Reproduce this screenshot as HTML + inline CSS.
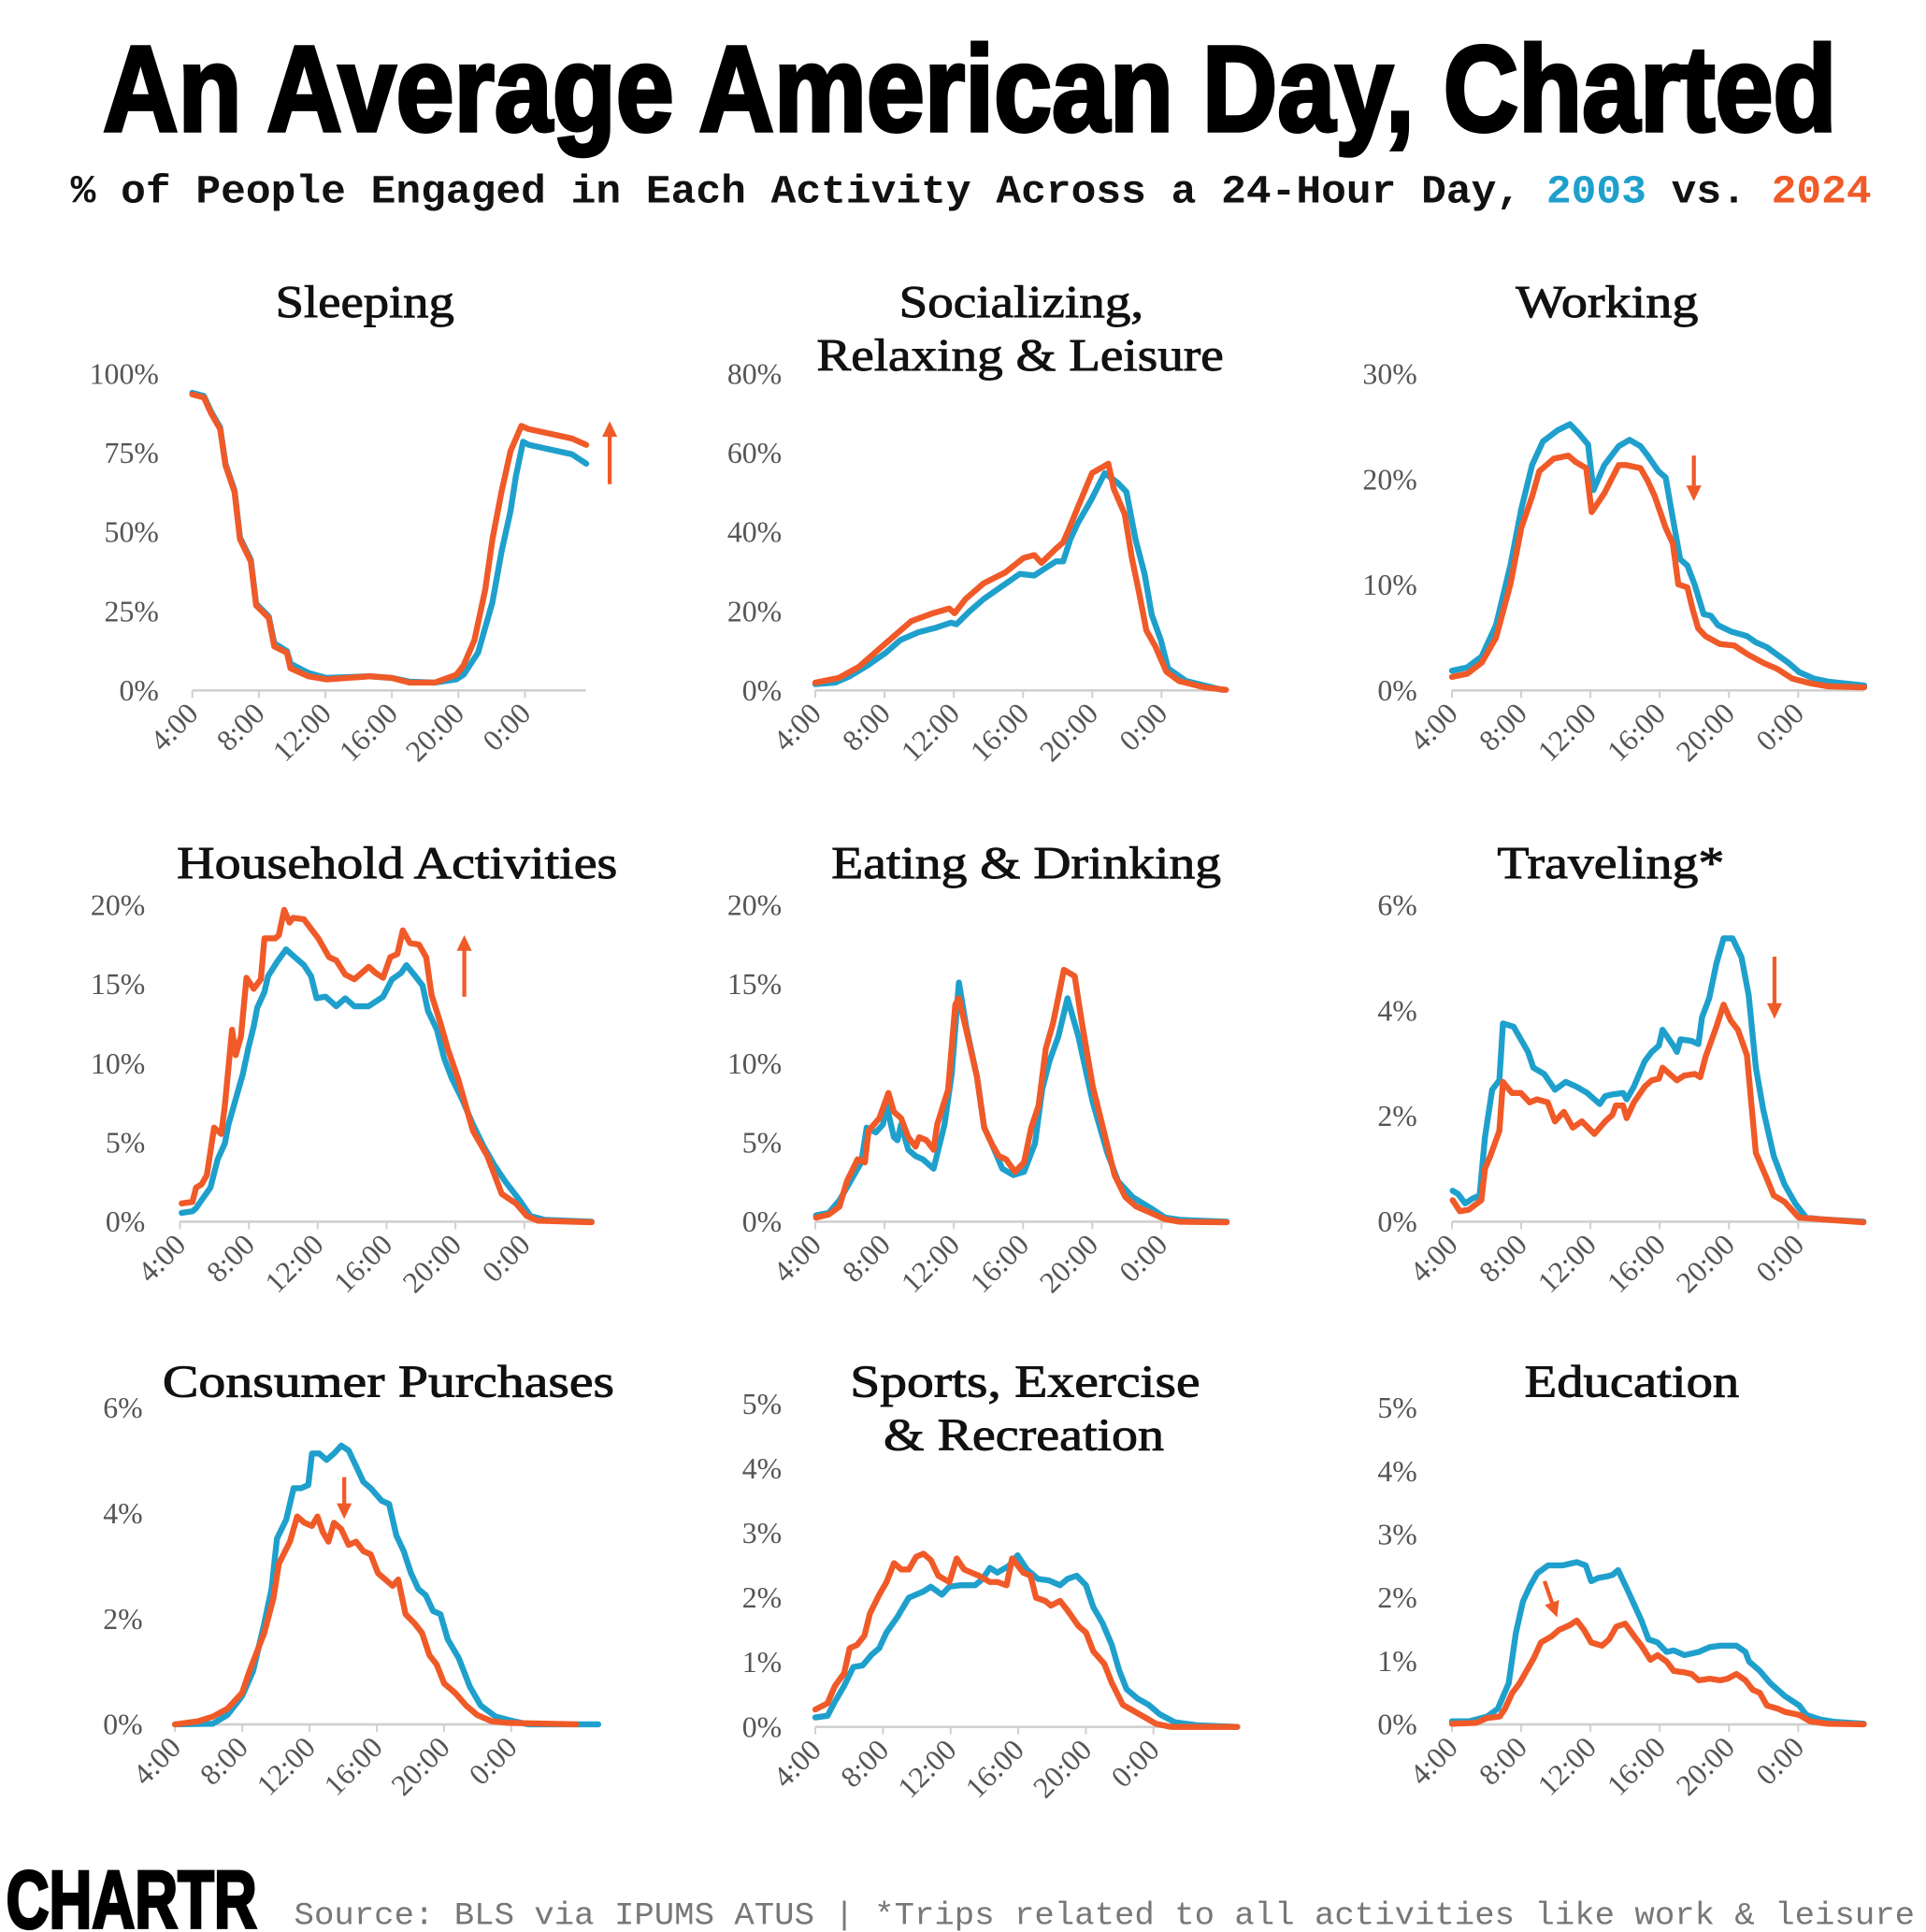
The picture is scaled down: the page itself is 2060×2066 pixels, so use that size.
<!DOCTYPE html>
<html><head><meta charset="utf-8"><style>
html,body{margin:0;padding:0;background:#fff;width:2060px;height:2066px;overflow:hidden}
svg{display:block}
.tick{font-family:"Liberation Serif",serif;font-size:24px;fill:#555}
.pt{font-family:"Liberation Serif",serif;font-size:37px;fill:#111;stroke:#111;stroke-width:0.7}
</style></head><body>
<svg id="s" width="2060" height="2066" viewBox="0 0 1552 1556" xmlns="http://www.w3.org/2000/svg">
<text x="83" y="105" font-family="Liberation Sans Narrow, Liberation Sans, sans-serif" font-weight="bold" font-size="98" textLength="1397" lengthAdjust="spacingAndGlyphs" fill="#000" stroke="#000" stroke-width="3">An Average American Day, Charted</text>
<text x="57" y="163" font-family="Liberation Mono, monospace" font-weight="bold" font-size="32" textLength="1451" lengthAdjust="spacingAndGlyphs" fill="#111">% of People Engaged in Each Activity Across a 24-Hour Day, <tspan fill="#1fa0cc">2003</tspan> vs. <tspan fill="#f05a28">2024</tspan></text>
<text x="5" y="1553" font-family="Liberation Sans Narrow, Liberation Sans, sans-serif" font-weight="bold" font-size="66" textLength="202" lengthAdjust="spacingAndGlyphs" fill="#000" stroke="#000" stroke-width="2.5">CHARTR</text>
<text x="237" y="1550" font-family="Liberation Mono, monospace" font-size="26" textLength="1306" lengthAdjust="spacingAndGlyphs" fill="#777">Source: BLS via IPUMS ATUS | *Trips related to all activities like work &amp; leisure</text>
<g id="g"></g>
</svg>
<script>
const B="#1fa0cc",O="#f05a28";
const panels=[
{t:[["Sleeping",294,255,144]],x0:155,sp:53.6,x1:472,ty0:556,ty1:301,ticks:["0%","25%","50%","75%","100%"],lx:128,
zt:[328,1250],zy:[1060,55],
b:[328,115,360,125,380,175,405,225,420,340,445,425,460,575,490,645,505,785,540,825,555,910,590,935,600,975,650,1005,700,1020,820,1015,880,1020,930,1032,1000,1035,1060,1025,1080,1010,1120,940,1160,780,1185,620,1210,490,1225,380,1245,270,1260,280,1380,310,1420,340],
o:[328,120,360,130,380,180,405,230,420,345,445,430,460,580,490,650,505,790,540,830,555,920,590,940,600,990,650,1015,700,1025,820,1015,880,1020,930,1035,1000,1035,1060,1010,1080,980,1110,900,1140,740,1160,580,1185,430,1210,300,1240,220,1260,230,1380,260,1420,280],
ar:[1485,405,1485,205]},
{t:[["Socializing,",823,255,197],["Relaxing & Leisure",822,298,328]],x0:657,sp:55.8,x1:990,ty0:556,ty1:301,ticks:["0%","20%","40%","60%","80%"],lx:630,
zt:[275,1232],zy:[1060,55],
b:[275,1040,330,1035,370,1015,420,980,470,940,510,900,560,875,610,860,650,845,665,850,700,810,740,770,790,730,840,690,880,695,900,680,940,650,960,650,980,580,1000,530,1040,450,1075,370,1110,400,1135,430,1160,580,1185,690,1205,820,1230,900,1250,990,1300,1030,1400,1058],
o:[275,1035,340,1020,395,985,450,930,500,880,540,840,600,815,645,800,660,815,690,770,740,720,800,685,850,640,880,630,900,655,940,610,960,590,975,550,1000,480,1040,370,1085,340,1100,420,1130,500,1150,640,1170,750,1190,870,1215,920,1245,1000,1280,1030,1350,1050,1410,1058]},
{t:[["Working",1295,255,147]],x0:1170,sp:55.8,x1:1502,ty0:556,ty1:301,ticks:["0%","10%","20%","30%"],lx:1142,
zt:[258,1217],zy:[1058,50],
b:[258,995,300,985,340,950,380,850,420,660,450,480,480,340,510,265,550,230,585,210,610,240,635,275,650,420,680,340,720,280,750,260,780,280,800,310,830,360,850,380,870,510,890,640,910,660,930,720,955,815,975,820,995,850,1030,870,1075,885,1100,905,1130,920,1160,945,1190,970,1220,1000,1260,1020,1300,1030,1400,1042],
o:[258,1015,300,1005,340,970,380,890,420,720,450,540,480,440,500,360,540,320,580,310,600,330,630,350,645,490,680,430,720,340,740,340,780,350,800,390,820,440,850,540,870,590,885,720,910,730,925,800,940,860,960,885,1000,910,1040,915,1080,945,1120,970,1160,990,1200,1020,1250,1035,1300,1045,1400,1048],
ar:[928,310,928,455]},
{t:[["Household Activities",320,707,355]],x0:145,sp:55.5,x1:477,ty0:984,ty1:729,ticks:["0%","5%","10%","15%","20%"],lx:117,
zt:[285,1243],zy:[1068,65],
b:[290,1040,320,1035,330,1025,345,1000,370,960,390,870,410,820,420,760,440,680,460,600,475,520,490,450,500,390,520,340,530,290,555,245,580,205,600,225,630,255,650,290,665,360,690,355,720,385,745,360,770,385,810,385,850,355,875,300,900,280,915,255,940,290,960,320,975,400,1000,460,1020,550,1040,610,1070,680,1100,760,1130,830,1160,890,1190,940,1230,1000,1260,1050,1300,1062,1430,1068],
o:[290,1010,320,1005,330,960,345,950,360,920,380,770,400,790,410,700,430,460,440,540,455,480,470,295,490,330,510,300,520,170,550,170,560,160,575,80,590,120,600,105,630,110,650,140,670,170,700,230,720,240,745,285,770,300,790,280,810,260,830,280,850,295,870,230,890,220,905,145,925,185,950,190,970,230,985,350,1010,440,1030,520,1060,620,1080,700,1100,780,1140,860,1180,980,1220,1010,1250,1050,1280,1065,1430,1070],
ar:[1076,355,1076,160]},
{t:[["Eating & Drinking",827,707,314]],x0:657,sp:55.8,x1:990,ty0:984,ty1:729,ticks:["0%","5%","10%","15%","20%"],lx:630,
zt:[273,1230],zy:[1068,65],
b:[275,1048,310,1040,340,1000,360,960,380,920,400,880,415,770,440,785,460,760,470,700,490,800,500,810,510,760,530,840,550,860,570,870,600,900,630,760,650,600,670,310,690,450,720,610,740,770,760,820,790,900,820,920,850,910,880,820,900,650,920,560,945,480,970,360,1000,480,1040,690,1080,850,1110,940,1150,990,1200,1025,1240,1055,1280,1062,1410,1068],
o:[275,1055,310,1045,340,1020,360,940,390,870,410,880,420,780,450,740,475,660,490,720,510,740,530,800,550,830,560,800,580,810,600,840,610,760,640,650,660,380,670,360,690,460,720,610,740,770,760,820,780,860,800,870,825,910,850,880,870,770,890,700,910,520,930,440,960,270,990,290,1010,440,1040,640,1070,780,1100,920,1130,990,1160,1020,1200,1040,1240,1060,1280,1068,1410,1070]},
{t:[["Traveling*",1298,707,183]],x0:1170,sp:55.8,x1:1502,ty0:984,ty1:729,ticks:["0%","2%","4%","6%"],lx:1142,
zt:[253,1218],zy:[1068,65],
b:[255,970,270,980,290,1010,310,995,330,985,345,800,365,650,385,620,395,440,425,450,445,490,465,530,480,580,510,600,540,650,570,625,600,640,630,660,665,695,680,670,700,665,730,660,740,680,760,640,790,560,810,530,830,510,840,460,870,510,880,530,890,490,920,495,940,505,950,420,970,360,990,250,1010,170,1035,170,1060,230,1080,350,1100,580,1120,710,1150,860,1180,950,1210,1010,1240,1055,1280,1060,1400,1068],
o:[255,1000,275,1035,300,1030,335,1000,345,900,360,860,385,780,395,625,420,660,445,660,470,690,490,680,520,690,540,750,565,720,590,770,615,750,650,790,680,750,700,730,710,700,730,700,740,740,760,690,790,640,810,620,830,615,840,580,860,600,880,620,900,605,930,600,945,610,960,545,990,450,1010,380,1030,430,1050,460,1075,540,1100,850,1130,930,1150,985,1180,1005,1220,1055,1280,1060,1400,1070],
ar:[1152,228,1152,425]},
{t:[["Consumer Purchases",313,1125,364]],x0:141,sp:54.2,x1:477,ty0:1389,ty1:1134,ticks:["0%","2%","4%","6%"],lx:115,
zt:[277,1193],zy:[1050,45],
b:[277,1050,380,1048,420,1020,460,960,490,880,520,730,540,620,555,460,580,400,600,300,620,300,640,290,650,190,670,190,690,210,710,190,730,165,750,180,770,230,790,280,810,300,840,340,860,350,880,450,900,500,920,570,940,620,960,640,980,690,1000,700,1020,780,1050,840,1080,930,1110,990,1150,1025,1200,1040,1240,1050,1430,1050],
o:[277,1050,340,1040,380,1025,420,1000,460,950,480,880,500,820,520,760,545,650,560,540,590,470,610,390,630,410,650,420,665,390,680,440,695,470,710,410,730,430,750,480,770,470,790,500,810,510,830,570,850,590,870,610,885,590,905,700,930,730,950,760,970,830,990,860,1010,920,1040,950,1070,990,1100,1020,1140,1040,1180,1045,1370,1050],
ar:[738,265,738,398]},
{t:[["Sports, Exercise",826,1125,282],["& Recreation",825,1168,226]],x0:657,sp:54.5,x1:990,ty0:1391,ty1:1131,ticks:["0%","1%","2%","3%","4%","5%"],lx:630,
zt:[267,1183],zy:[1060,35],
b:[267,1030,300,1025,320,980,345,930,370,870,395,865,420,830,440,810,460,760,490,710,520,650,560,630,580,615,610,640,630,615,660,610,700,610,720,590,740,555,760,570,790,550,815,515,840,560,870,590,900,595,930,610,950,590,975,580,1000,610,1020,680,1045,730,1070,800,1090,880,1110,940,1140,970,1170,990,1200,1020,1240,1045,1300,1055,1410,1060],
o:[267,1005,300,985,320,930,345,890,360,810,380,800,400,770,415,700,440,640,460,600,480,540,500,560,520,560,540,520,560,510,580,530,600,580,630,600,650,525,670,560,690,570,710,580,740,600,760,600,785,610,800,525,830,570,850,580,865,650,890,660,905,675,930,660,950,690,980,740,1000,760,1020,820,1050,860,1070,920,1100,990,1130,1010,1160,1030,1190,1050,1230,1060,1410,1060]},
{t:[["Education",1315,1125,173]],x0:1170,sp:55.8,x1:1502,ty0:1389,ty1:1134,ticks:["0%","1%","2%","3%","4%","5%"],lx:1142,
zt:[252,1217],zy:[1050,45],
b:[252,1040,300,1040,350,1025,380,1000,410,920,430,760,450,660,470,610,490,570,520,545,560,545,600,535,625,545,640,595,660,585,685,580,700,575,715,560,740,620,760,670,780,720,800,780,825,790,850,820,870,815,900,830,940,820,970,805,1000,800,1020,800,1045,800,1070,820,1080,850,1110,880,1140,920,1180,960,1220,990,1240,1020,1280,1035,1320,1042,1400,1048],
o:[252,1048,320,1045,350,1030,385,1025,400,1000,420,950,440,920,460,880,480,840,500,790,530,770,550,750,580,735,600,720,620,750,640,790,670,800,690,780,710,740,735,730,760,770,780,800,805,845,825,830,850,850,870,880,900,885,920,890,940,910,970,905,1000,910,1020,905,1045,890,1070,910,1090,940,1110,950,1130,990,1160,1000,1180,1010,1220,1020,1250,1040,1300,1048,1400,1050],
ar:[510,595,545,710]}
];
let h="";
const tl=["4:00","8:00","12:00","16:00","20:00","0:00"];
for(const p of panels){
 p.t.forEach(([t,x,y,w])=>h+=`<text class="pt" x="${x-w/2}" y="${y}" textLength="${w}" lengthAdjust="spacingAndGlyphs">${t.replace("&","&amp;")}</text>`);
 h+=`<line x1="${p.x0}" x2="${p.x1}" y1="${p.ty0}" y2="${p.ty0}" stroke="#d0d0d0" stroke-width="2"/>`;
 const n=p.ticks.length;
 p.ticks.forEach((t,i)=>{const y=p.ty0+(p.ty1-p.ty0)*i/(n-1);h+=`<text class="tick" x="${p.lx}" y="${y+8}" text-anchor="end">${t}</text>`;});
 tl.forEach((t,i)=>{const x=p.x0+p.sp*i;h+=`<line x1="${x}" x2="${x}" y1="${p.ty0}" y2="${p.ty0+6}" stroke="#d0d0d0" stroke-width="1.5"/><text class="tick" text-anchor="end" transform="translate(${x+6},${p.ty0+20}) rotate(-45)">${t}</text>`;});
 const fx=zx=>p.x0+(zx-p.zt[0])/(p.zt[1]-p.zt[0])*5*p.sp;
 const fy=zy=>p.ty0-(p.zy[0]-zy)/(p.zy[0]-p.zy[1])*(p.ty0-p.ty1);
 for(const [d,c] of [[p.b,B],[p.o,O]]){
  let pts=[];for(let i=0;i<d.length;i+=2)pts.push(fx(d[i]).toFixed(1)+","+fy(d[i+1]).toFixed(1));
  h+=`<polyline fill="none" stroke="${c}" stroke-width="4.8" stroke-linejoin="round" stroke-linecap="round" points="${pts.join(" ")}"/>`;
 }
 if(p.ar){let [a,b,c,d]=p.ar;a=fx(a);b=fy(b);c=fx(c);d=fy(d);const ang=Math.atan2(d-b,c-a),L=14;
  const hx1=c-L*Math.cos(ang-0.45),hy1=d-L*Math.sin(ang-0.45),hx2=c-L*Math.cos(ang+0.45),hy2=d-L*Math.sin(ang+0.45);
  const mx=c-L*0.8*Math.cos(ang),my=d-L*0.8*Math.sin(ang);
  h+=`<line x1="${a}" y1="${b}" x2="${mx}" y2="${my}" stroke="${O}" stroke-width="3.2"/><polygon points="${c},${d} ${hx1},${hy1} ${hx2},${hy2}" fill="${O}"/>`;}
}
document.getElementById("g").innerHTML=h;
</script>
</body></html>
